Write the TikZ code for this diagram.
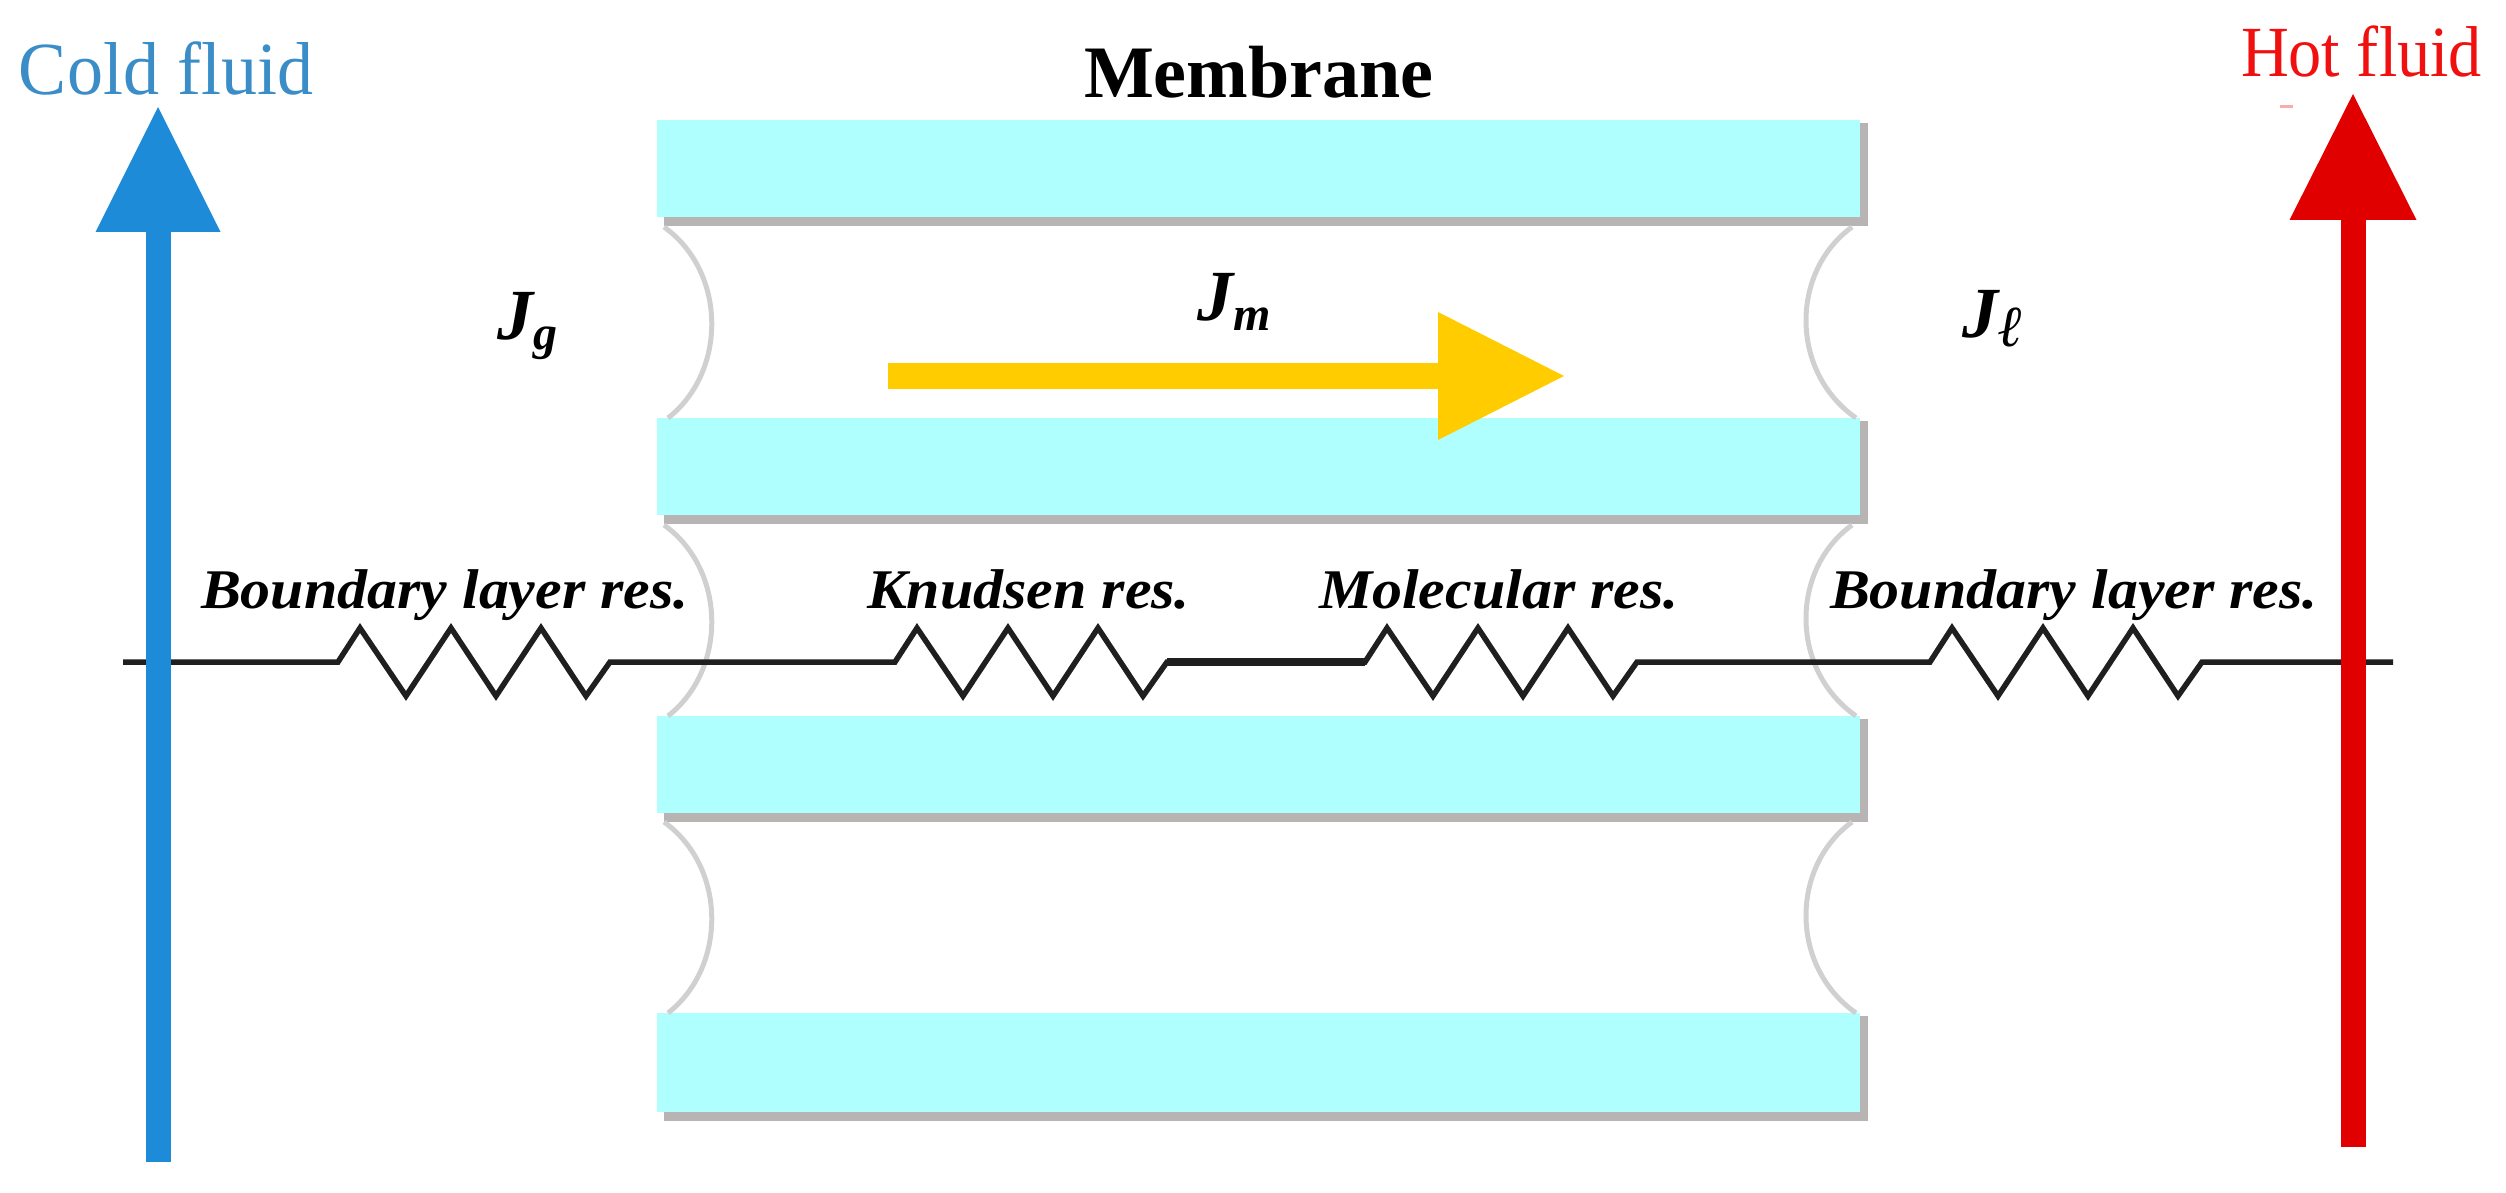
\documentclass[tikz,border=0pt]{standalone}
\usepackage{fontspec}
\usepackage{graphicx}
\setmainfont{Liberation Serif}
\usetikzlibrary{arrows.meta}
\definecolor{coldc}{HTML}{1E8BD8}
\definecolor{coldt}{HTML}{3B8DC8}
\definecolor{hotc}{HTML}{E00000}
\definecolor{hott}{HTML}{F01010}
\definecolor{goldc}{HTML}{FFCC00}
\definecolor{barc}{HTML}{B0FFFF}
\definecolor{shadc}{HTML}{B8B4B4}
\definecolor{menc}{HTML}{D0D0D0}
\tikzset{
  lab/.style={anchor=base west,inner sep=0pt,outer sep=0pt},
  reslab/.style={lab,font=\fontsize{56}{60}\selectfont\bfseries\itshape},
  jlab/.style={lab,font=\fontsize{72}{76}\selectfont\bfseries\itshape},
  wire/.style={draw=black!88,line width=5.5pt,line join=miter},
  zigzagres/.style={insert path={-- ++(22,-34) -- ++(46,68) -- ++(45,-68) -- ++(45,68) -- ++(45,-68) -- ++(45,68) -- ++(24,-34)}},
  flowcold/.style={draw=coldc,line width=25pt,-{Triangle[length=125pt,width=125pt,line width=0pt]},coldc},
  flowhot/.style={draw=hotc,line width=25pt,-{Triangle[length=126pt,width=127pt,line width=0pt]},hotc},
  flowgold/.style={draw=goldc,line width=26pt,-{Triangle[length=126pt,width=128pt,line width=0pt]},goldc},
  meniscus/.style={draw=menc,line width=5pt}
}
\newcommand{\Jsub}[3]{J\raisebox{#2pt}{\fontsize{#3}{50}\selectfont #1}}
\newcommand{\wider}[1]{\scalebox{1.07}[1]{#1}}
\begin{document}
\begin{tikzpicture}[x=1pt,y=-1pt]
\useasboundingbox (0,0) rectangle (2506,1193);
% membrane bars
\foreach \t/\b in {120/217,418/515,716/813,1013/1112}{
  \fill[shadc] (664,\t+3) rectangle (1868,\b+9);
  \fill[barc] (657,\t) rectangle (1860,\b);
}
% menisci
\foreach \d in {0,298,595}{
  \draw[meniscus] (664,227+\d) .. controls (727,272+\d) and (727,372+\d) .. (668,418+\d);
  \draw[meniscus] (1852,227+\d) .. controls (1790,272+\d) and (1790,372+\d) .. (1856,418+\d);
}
% resistor chain
\coordinate (wL) at (123,662);
\coordinate (r1) at (338,662);
\coordinate (r2) at (895,662);
\coordinate (r3) at (1365,662);
\coordinate (r4) at (1930,662);
\coordinate (wR) at (2393,662);
\draw[wire] (wL) -- (r1) [zigzagres] -- (r2) [zigzagres] coordinate (r2e) -- (r3) [zigzagres] -- (r4) [zigzagres] -- (wR);
\draw[wire,line width=7.5pt] (r2e) -- (r3);
% flow arrows
\coordinate (cS) at (158,1162); \coordinate (cE) at (158,107);
\coordinate (hS) at (2353,1147); \coordinate (hE) at (2353,94);
\coordinate (gS) at (888,376); \coordinate (gE) at (1564,376);
\draw[flowcold] (cS) -- (cE);
\draw[flowhot] (hS) -- (hE);
\draw[flowgold] (gS) -- (gE);
\fill[hott!35] (2280,105) rectangle (2293,108);
% labels
\node[lab,text=coldt,font=\fontsize{75}{80}\selectfont] (coldl) at (19,95) {\scalebox{0.96}[1]{Cold fluid}};
\node[lab,text=hott,font=\fontsize{72}{76}\selectfont] (hotl) at (2241,77) {\scalebox{0.92}[1]{Hot fluid}};
\node[lab,font=\fontsize{74}{78}\selectfont\bfseries] (memb) at (1084,98) {Membrane};
\node[jlab] (jg) at (497,339) {\Jsub{g}{-10}{48}};
\node[jlab] (jm) at (1197,320) {\Jsub{m}{-10}{48}};
\node[jlab] (jl) at (1962,337) {\Jsub{ℓ}{-9}{58}};
\node[reslab] (b1) at (201,608) {\wider{Boundary layer res.}};
\node[reslab] (kn) at (867,608) {\wider{Knudsen res.}};
\node[reslab] (mo) at (1319,608) {\wider{Molecular res.}};
\node[reslab] (b2) at (1830,608) {\wider{Boundary layer res.}};
\end{tikzpicture}
\end{document}
